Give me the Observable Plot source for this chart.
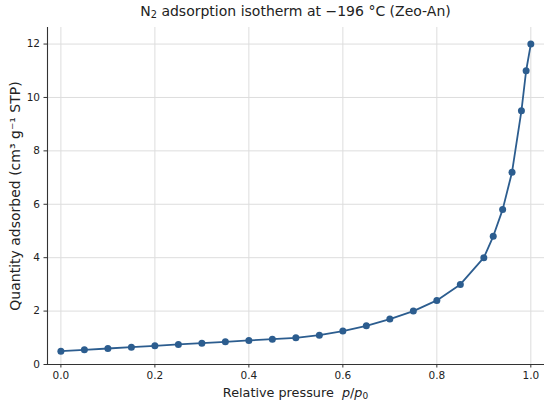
<!DOCTYPE html>
<html>
<head>
<meta charset="utf-8">
<script src="https://cdn.jsdelivr.net/npm/d3@7"></script>
<script src="https://cdn.jsdelivr.net/npm/@observablehq/plot@0.6"></script>
<style>
  html, body { margin: 0; padding: 0; background: #fff; }
  #wrap { position: relative; width: 550px; height: 406px; font-family: "DejaVu Sans", sans-serif; color: #222; }
  #title { position: absolute; left: 47px; width: 497px; top: 0; height: 24px; line-height: 23px; font-size: 14px; text-align: center; white-space: nowrap; }
  #chart { position: absolute; left: 0; top: 24px; }
  #xlabel { position: absolute; left: 47px; width: 497px; top: 385px; height: 21px; line-height: 15px; font-size: 12.8px; text-align: center; white-space: nowrap; }
  sub { font-size: 70%; line-height: 0; vertical-align: -0.25em; }
</style>
</head>
<body>
<div id="wrap">
  <div id="title">N<sub>2</sub> adsorption isotherm at −196 °C (Zeo-An)</div>
  <div id="chart"></div>
  <div id="xlabel">Relative pressure&nbsp;&nbsp;<i>p</i>/<i>p</i><sub>0</sub></div>
</div>
<script>
const pressure = [0, 0.05, 0.10, 0.15, 0.20, 0.25, 0.30, 0.35, 0.40, 0.45, 0.50, 0.55, 0.60, 0.65, 0.70, 0.75, 0.80, 0.85, 0.90, 0.92, 0.94, 0.96, 0.98, 0.99, 1.00];
const quantity = [0.50, 0.55, 0.60, 0.65, 0.70, 0.75, 0.80, 0.85, 0.90, 0.95, 1.00, 1.10, 1.25, 1.45, 1.70, 2.00, 2.40, 3.00, 4.00, 4.80, 5.80, 7.20, 9.50, 11.00, 12.00];
const xTicks = [0, 0.2, 0.4, 0.6, 0.8, 1.0];
const yTicks = [0, 2, 4, 6, 8, 10, 12];
const yLabel = "Quantity adsorbed (cm³ g⁻¹ STP)";

const data = pressure.map((p, i) => ({p, q: quantity[i]}));
const xDomain = [-0.0285, 1.0291];
const yDomain = [0, 12.62];
const color = "#2c5d8f";

const chart = Plot.plot({
  width: 550,
  height: 362,
  marginTop: 3,
  marginBottom: 22,
  marginLeft: 47,
  marginRight: 6,
  style: {fontFamily: "DejaVu Sans, sans-serif", background: "#fff", color: "#222"},
  x: {domain: xDomain},
  y: {domain: yDomain},
  marks: [
    Plot.gridX(xTicks, {stroke: "#dddddd", strokeOpacity: 1, strokeWidth: 1}),
    Plot.gridY(yTicks, {stroke: "#dddddd", strokeOpacity: 1, strokeWidth: 1}),
    Plot.ruleX([xDomain[0]], {stroke: "#333", strokeWidth: 1.1}),
    Plot.ruleY([yDomain[0]], {stroke: "#333", strokeWidth: 1.1}),
    Plot.axisX({ticks: xTicks, tickFormat: d3.format(".1f"), tickSize: 3.5, tickPadding: 3.5, fontSize: 10.5, label: null, stroke: "#333", fill: "#222"}),
    Plot.axisY({ticks: yTicks, tickFormat: d3.format("d"), tickSize: 3.5, tickPadding: 4, fontSize: 10.5, label: null, stroke: "#333", fill: "#222"}),
    Plot.text([yLabel], {text: d => d, frameAnchor: "left", dx: -32, rotate: -90, textAnchor: "middle", fontSize: 14, fill: "#222"}),
    Plot.line(data, {x: "p", y: "q", stroke: color, strokeWidth: 1.8}),
    Plot.dot(data, {x: "p", y: "q", r: 3.5, fill: color, stroke: "none"})
  ]
});
document.getElementById("chart").appendChild(chart);
</script>
</body>
</html>
